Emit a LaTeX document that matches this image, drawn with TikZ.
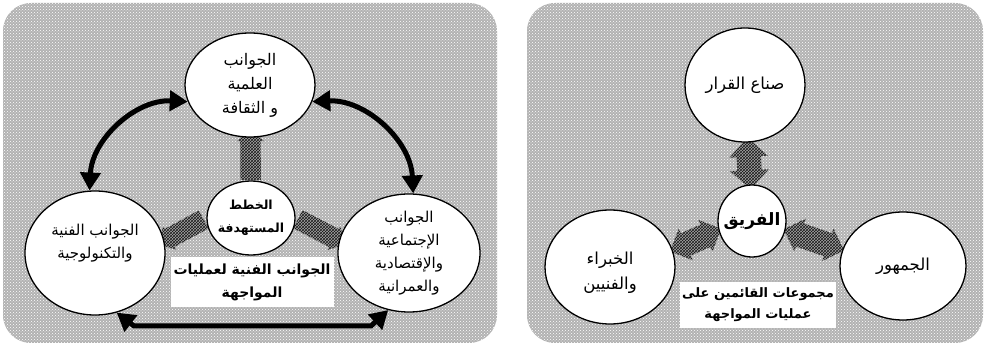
\documentclass[tikz,border=0pt]{standalone}
\usepackage{fontspec}
\usetikzlibrary{shapes.geometric,shapes.arrows,patterns,arrows.meta,backgrounds}
\newfontfamily\arabicfont[Script=Arabic]{DejaVu Sans}
\TeXXeTstate=1
\newcommand{\artext}[1]{\beginR #1\endR}

\begin{document}
\begin{tikzpicture}[x=1pt, y=-1pt]
	\tikzstyle{every node}=[font=\arabicfont\fontsize{15}{23}\selectfont, align=center]
	\tikzstyle{bigtext}=[font=\arabicfont\fontsize{16.5}{25}\selectfont]
	\tikzstyle{panel}=[rounded corners=28pt, preaction={fill=gray!60}, pattern=crosshatch dots, pattern color=white]
	\tikzstyle{bubble}=[ellipse, draw, line width=1.3pt, fill=white, inner sep=-5pt]
	\tikzstyle{band}=[single arrow, inner xsep=0pt, inner ysep=10pt, single arrow head extend=3pt, preaction={fill=gray!70}, pattern=crosshatch, pattern color=gray!20!black, sloped, allow upside down]
	\tikzstyle{twoway}=[double arrow, inner xsep=0pt, inner ysep=12pt, double arrow head extend=5pt, preaction={fill=gray!70}, pattern=crosshatch, pattern color=gray!20!black, sloped, allow upside down]
	\tikzstyle{link}=[line width=5pt, {Triangle[length=18pt,width=20pt]}-{Triangle[length=18pt,width=20pt]}]
	\tikzstyle{caption}=[fill=white, font=\arabicfont\bfseries\fontsize{14}{23}\selectfont, inner sep=2pt]

	\useasboundingbox (0,0) rectangle (986,347);

	%left diagram
	\node[bubble, minimum width=130pt, minimum height=104pt, font=\arabicfont\fontsize{16}{24}\selectfont] (sci) at (250,85)
		{\artext{الجوانب}\\\artext{العلمية}\\\artext{و الثقافة}};
	\node[bubble, minimum width=140pt, minimum height=124pt] (tech) at (95,253)
		{\artext{الجوانب الفنية}\\\artext{والتكنولوجية}\\~};
	\node[bubble, minimum width=142pt, minimum height=118pt] (soc) at (409,253)
		{\artext{الجوانب}\\\artext{الإجتماعية}\\\artext{والإقتصادية}\\\artext{والعمرانية}};
	\node[bubble, minimum width=88pt, minimum height=74pt, font=\arabicfont\bfseries\fontsize{12.5}{23}\selectfont] (plan) at (251,218)
		{\artext{الخطط}\\\artext{المستهدفة}};

	%right diagram
	\node[bubble, bigtext, minimum width=120pt, minimum height=114pt] (dec) at (745,85)
		{\artext{صناع القرار}};
	\node[bubble, minimum width=68pt, minimum height=72pt, font=\arabicfont\bfseries\fontsize{17}{20}\selectfont] (team) at (752,221)
		{\artext{الفريق}};
	\node[bubble, bigtext, minimum width=130pt, minimum height=114pt] (exp) at (610,267)
		{~\\\artext{الخبراء}\\\artext{والفنيين}};
	\node[bubble, bigtext, minimum width=126pt, minimum height=108pt] (pub) at (903,266)
		{\artext{الجمهور}};

	%backgrounds and block arrows
	\begin{scope}[on background layer]
		\path[panel] (3,3) rectangle (497,343);
		\path[panel] (527,3) rectangle (983,343);
		\path (plan) -- node[band, minimum height=52pt] {} (sci);
		\path (plan.180) -- node[band, minimum height=52pt] {} (tech.10);
		\path (plan.0) -- node[band, minimum height=54pt] {} (soc.170);
		\path (team) -- node[twoway, minimum height=52pt, double arrow head extend=7pt] {} (dec);
		\path (team.195) -- node[twoway, minimum height=56pt] {} (exp.15);
		\path (team.-15) -- node[twoway, minimum height=64pt] {} (pub.165);
	\end{scope}

	%curved links
	\coordinate (bl) at (134,326);
	\coordinate (br) at (371,326);
	\draw[link] (sci.195) to[bend right=45] (tech.95);
	\draw[link] (sci.345) to[bend left=45] (soc.86);
	\draw[link] (tech.290) -- (bl) -- (br) -- (soc.250);

	%captions
	\node[caption, minimum width=163pt, minimum height=50pt] (capL) at (252,282)
		{\artext{الجوانب الفنية  لعمليات}\\\artext{المواجهة}};
	\node[caption, minimum width=154pt, minimum height=46pt, font=\arabicfont\bfseries\fontsize{13}{21}\selectfont] (capR) at (758,305)
		{\artext{مجموعات القائمين على}\\\artext{عمليات المواجهة}};
\end{tikzpicture}
\end{document}
